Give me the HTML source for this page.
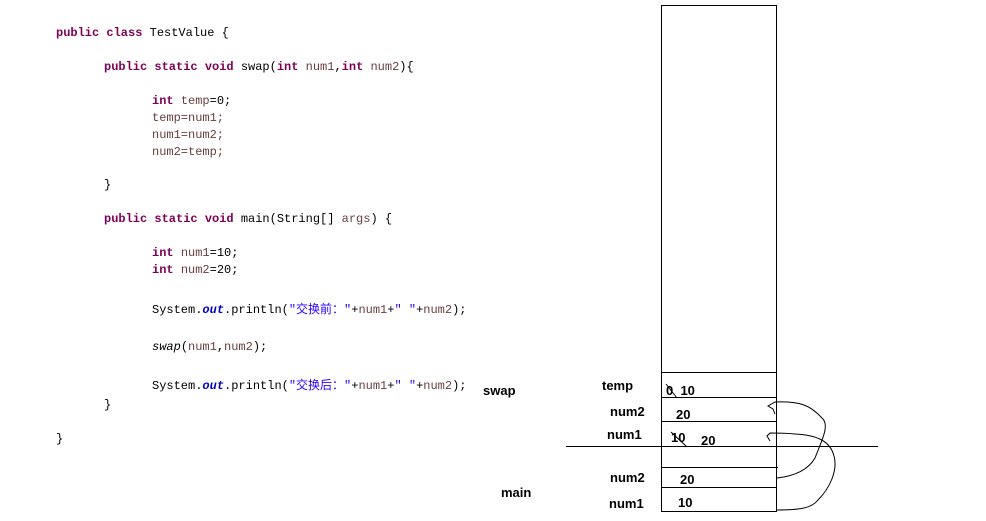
<!DOCTYPE html>
<html><head><meta charset="utf-8"><style>
body{margin:0;background:#fff;width:986px;height:521px;position:relative;overflow:hidden}
.c{position:absolute;font-family:"Liberation Mono","Noto Sans CJK SC",monospace;font-size:12px;color:#000;white-space:pre;line-height:14px}
.k{color:#7f0055;font-weight:bold}
.v{color:#6a3e3e}
.s{color:#2a00ff}
.o{color:#0000c0;font-weight:bold;font-style:italic}
.l{position:absolute;font-family:"Liberation Sans","DejaVu Sans",sans-serif;font-weight:bold;font-size:13px;white-space:pre;line-height:14px}
</style></head><body>
<div class="c" style="left:56px;top:26px"><span class="k">public class</span> TestValue {</div>
<div class="c" style="left:104px;top:60px"><span class="k">public static void</span> swap(<span class="k">int</span> <span class="v">num1</span>,<span class="k">int</span> <span class="v">num2</span>){</div>
<div class="c" style="left:152px;top:94px"><span class="k">int</span> <span class="v">temp</span>=0;</div>
<div class="c v" style="left:152px;top:111px">temp=num1;</div>
<div class="c v" style="left:152px;top:128px">num1=num2;</div>
<div class="c v" style="left:152px;top:145px">num2=temp;</div>
<div class="c" style="left:104px;top:178px">}</div>
<div class="c" style="left:104px;top:212px"><span class="k">public static void</span> main(String[] <span class="v">args</span>) {</div>
<div class="c" style="left:152px;top:246px"><span class="k">int</span> <span class="v">num1</span>=10;</div>
<div class="c" style="left:152px;top:263px"><span class="k">int</span> <span class="v">num2</span>=20;</div>
<div class="c" style="left:152px;top:303px">System.<span class="o">out</span>.println(<span class="s">"交换前："</span>+<span class="v">num1</span>+<span class="s">" "</span>+<span class="v">num2</span>);</div>
<div class="c" style="left:152px;top:340px"><i>swap</i>(<span class="v">num1</span>,<span class="v">num2</span>);</div>
<div class="c" style="left:152px;top:379px">System.<span class="o">out</span>.println(<span class="s">"交换后："</span>+<span class="v">num1</span>+<span class="s">" "</span>+<span class="v">num2</span>);</div>
<div class="c" style="left:104px;top:398px">}</div>
<div class="c" style="left:56px;top:432px">}</div>

<svg width="986" height="521" style="position:absolute;left:0;top:0" fill="none" stroke="#000" stroke-width="1">
<rect x="661.5" y="5.5" width="115" height="506"/>
<line x1="661" y1="372.5" x2="776" y2="372.5"/>
<line x1="661" y1="397.5" x2="776" y2="397.5"/>
<line x1="661" y1="421.5" x2="776" y2="421.5"/>
<line x1="661" y1="467.5" x2="778" y2="467.5"/>
<line x1="661" y1="487.5" x2="776" y2="487.5"/>
<line x1="566" y1="446.5" x2="878" y2="446.5"/>
<path d="M777 510 C800 510 812 508 818 500 C830 488 838 470 834 456 C830 440 815 435 795 434 C785 433 778 433 770 433 L767 436 L770 441"/>
<path d="M777 478 C795 476 808 470 815 458 C822 440 830 425 822 418 C810 405 800 401 775 402 L768 406 L773 409 L775 414"/>
<path d="M666 384 L677 398"/>
<path d="M671 432 L687 447"/>
</svg>
<div class="l" style="left:483px;top:384px">swap</div>
<div class="l" style="left:602px;top:379px">temp</div>
<div class="l" style="left:666px;top:384px">0  10</div>
<div class="l" style="left:610px;top:405px">num2</div>
<div class="l" style="left:676px;top:408px">20</div>
<div class="l" style="left:607px;top:428px">num1</div>
<div class="l" style="left:671px;top:431px">10</div>
<div class="l" style="left:701px;top:434px">20</div>
<div class="l" style="left:610px;top:471px">num2</div>
<div class="l" style="left:680px;top:473px">20</div>
<div class="l" style="left:501px;top:486px">main</div>
<div class="l" style="left:609px;top:497px">num1</div>
<div class="l" style="left:678px;top:496px">10</div>
</body></html>
